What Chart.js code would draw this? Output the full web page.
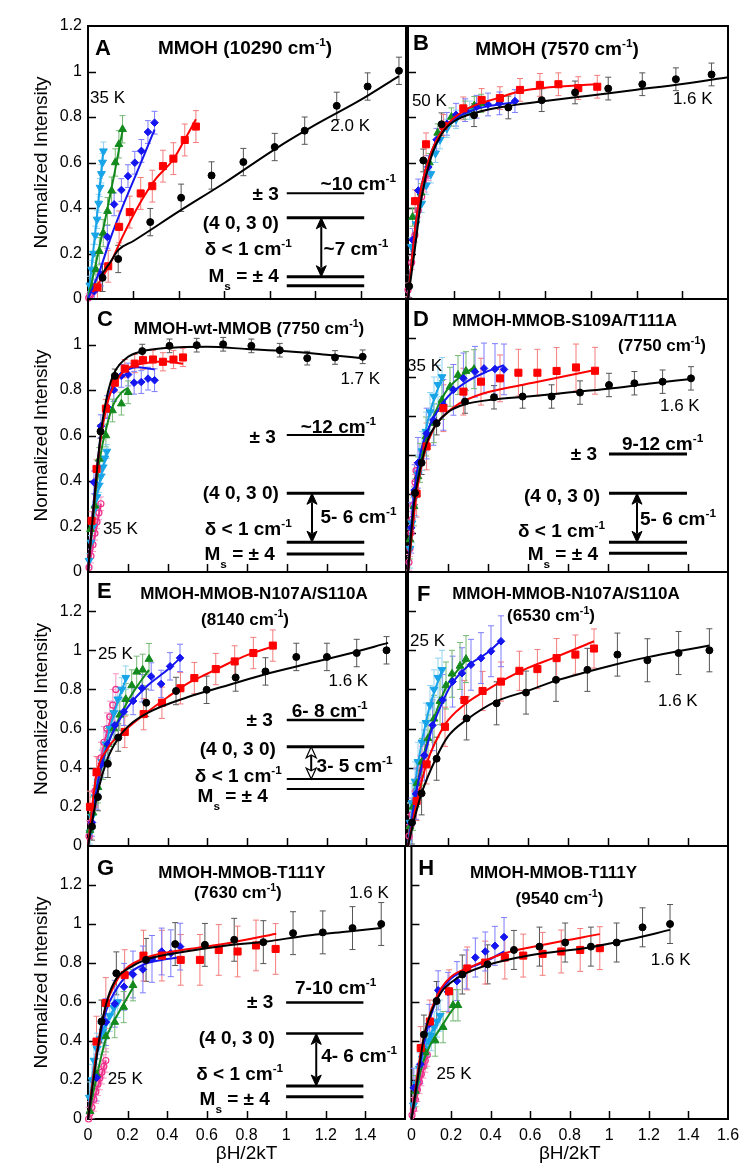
<!DOCTYPE html>
<html>
<head>
<meta charset="utf-8">
<script src="https://cdn.jsdelivr.net/npm/chart.js@4.4.1/dist/chart.umd.min.js"></script>
<style>
  body { margin: 0; background: #fff; width: 750px; height: 1175px; position: relative; overflow: hidden; }
  canvas { position: absolute; }
</style>
</head>
<body>
<script>
// ---- data: [betaH/2kT, normalized intensity] ----
// panel A  MMOH (10290 cm-1)
const aBlack = [[0.064,0.093],[0.133,0.176],[0.274,0.338],[0.41,0.445],[0.544,0.543],[0.684,0.602],[0.822,0.668],[0.954,0.74],[1.095,0.849],[1.231,0.934],[1.369,1.003]]
const aBlackFit = [[0.055,0.1],[0.1,0.165],[0.133,0.215],[0.2,0.255],[0.4,0.385],[0.6,0.51],[0.822,0.658],[1.0,0.765],[1.2,0.875],[1.369,0.98]]
const aRed = [[0.042,0.051],[0.089,0.144],[0.137,0.317],[0.184,0.382],[0.232,0.464],[0.283,0.496],[0.33,0.584],[0.376,0.617],[0.426,0.699],[0.475,0.758]]
const aRedFit = [[0.02,0.03],[0.06,0.09],[0.1,0.16],[0.15,0.27],[0.228,0.42],[0.3,0.53],[0.373,0.61],[0.42,0.69],[0.475,0.79]]
const aBlue = [[0.028,0.034],[0.057,0.107],[0.085,0.273],[0.115,0.416],[0.147,0.479],[0.176,0.54],[0.206,0.599],[0.235,0.651],[0.264,0.734],[0.293,0.775]]
const aBlueFit = [[0,0],[0.05,0.12],[0.1,0.27],[0.15,0.4],[0.2,0.52],[0.25,0.64],[0.293,0.745]]
const aGreen = [[0.02,0.05],[0.035,0.13],[0.05,0.21],[0.067,0.29],[0.086,0.386],[0.104,0.476],[0.12,0.6],[0.136,0.68],[0.152,0.746]]
const aGreenFit = [[0,0],[0.04,0.18],[0.08,0.37],[0.12,0.57],[0.152,0.74]]
const aCyan = [[0.008,0.06],[0.016,0.13],[0.024,0.2],[0.032,0.28],[0.04,0.35],[0.047,0.42],[0.053,0.49],[0.059,0.55],[0.064,0.6],[0.068,0.65]]
const aCyanFit = [[0,0],[0.035,0.32],[0.068,0.66]]
const aPink = [[0.003,0.005],[0.008,0.012],[0.013,0.02]]
const aPinkFit = []
const errA = [0.06, 0.07, 0.05, 0.06, 0.04, 0.02]

// panel B  MMOH (7570 cm-1)
const bBlack = [[0.005,0.056],[0.067,0.609],[0.147,0.768],[0.289,0.808],[0.439,0.842],[0.585,0.874],[0.731,0.908],[0.876,0.925],[1.025,0.944],[1.172,0.966],[1.328,0.987]]
const bBlackFit = [[0,0],[0.03,0.22],[0.06,0.45],[0.1,0.62],[0.15,0.73],[0.2,0.78],[0.3,0.82],[0.45,0.85],[0.6,0.87],[0.8,0.895],[1.0,0.92],[1.2,0.945],[1.4,0.975]]
const bRed = [[0.031,0.43],[0.079,0.68],[0.155,0.761],[0.242,0.838],[0.322,0.875],[0.402,0.883],[0.49,0.919],[0.577,0.941],[0.658,0.944],[0.745,0.927],[0.828,0.933]]
const bRedFit = [[0,0],[0.03,0.3],[0.06,0.5],[0.1,0.64],[0.15,0.74],[0.25,0.83],[0.4,0.885],[0.5,0.915],[0.828,0.945]]
const bBlue = [[0.02,0.26],[0.045,0.477],[0.089,0.58],[0.125,0.7],[0.17,0.77],[0.21,0.81],[0.25,0.83],[0.3,0.845],[0.35,0.855],[0.4,0.86],[0.468,0.87]]
const bBlueFit = [[0,0],[0.03,0.3],[0.06,0.5],[0.1,0.64],[0.15,0.74],[0.2,0.79],[0.3,0.835],[0.468,0.865]]
const bGreen = [[0.02,0.36],[0.057,0.467],[0.093,0.6],[0.13,0.73],[0.19,0.8],[0.25,0.83],[0.29,0.85],[0.32,0.86]]
const bGreenFit = [[0,0],[0.03,0.3],[0.06,0.5],[0.1,0.64],[0.15,0.74],[0.2,0.79],[0.32,0.845]]
const bCyan = [[0.015,0.23],[0.035,0.33],[0.06,0.42],[0.08,0.5],[0.1,0.55],[0.12,0.64],[0.14,0.7],[0.17,0.75],[0.21,0.79],[0.27,0.83]]
const bCyanFit = [[0,0],[0.03,0.28],[0.06,0.48],[0.1,0.62],[0.15,0.73],[0.2,0.78],[0.27,0.82]]
const bPink = [[0.0,0.04],[0.016,0.16],[0.03,0.28],[0.045,0.39],[0.06,0.45],[0.075,0.5],[0.09,0.55]]
const bPinkFit = [[0,0],[0.03,0.27],[0.06,0.45],[0.09,0.56]]
const errB = [0.05, 0.05, 0.05, 0.04, 0.04, 0.03]

// panel C  MMOH-wt-MMOB (7750 cm-1)
const cBlack = [[0.063,0.618],[0.135,0.862],[0.273,0.971],[0.41,0.994],[0.547,0.997],[0.68,1.001],[0.822,0.994],[0.965,0.975],[1.103,0.94],[1.243,0.943],[1.382,0.946]]
const cBlackFit = [[0,0],[0.03,0.3],[0.063,0.6],[0.1,0.79],[0.135,0.88],[0.2,0.945],[0.273,0.97],[0.4,0.985],[0.6,0.99],[0.8,0.98],[1.0,0.97],[1.2,0.955],[1.382,0.94]]
const cRed = [[0.018,0.225],[0.043,0.453],[0.09,0.718],[0.135,0.832],[0.185,0.894],[0.235,0.916],[0.277,0.931],[0.327,0.934],[0.377,0.924],[0.43,0.934],[0.478,0.943]]
const cRedFit = [[0,0],[0.03,0.3],[0.06,0.56],[0.1,0.75],[0.15,0.85],[0.2,0.895],[0.3,0.92],[0.4,0.925],[0.478,0.915]]
const cBlue = [[0.03,0.394],[0.065,0.641],[0.097,0.725],[0.13,0.8],[0.168,0.862],[0.202,0.868],[0.232,0.832],[0.268,0.835],[0.302,0.85],[0.335,0.843]]
const cBlueFit = [[0,0],[0.03,0.32],[0.065,0.6],[0.1,0.76],[0.15,0.86],[0.2,0.89],[0.25,0.9],[0.3,0.895],[0.335,0.89]]
const cGreen = [[0.013,0.188],[0.035,0.291],[0.057,0.497],[0.09,0.6],[0.123,0.71],[0.168,0.74],[0.202,0.79]]
const cGreenFit = [[0,0],[0.03,0.28],[0.06,0.5],[0.1,0.66],[0.13,0.74],[0.17,0.79],[0.202,0.81]]
const cCyan = [[0.005,0.05],[0.015,0.13],[0.025,0.2],[0.035,0.28],[0.045,0.33],[0.055,0.38],[0.065,0.42],[0.075,0.46],[0.085,0.5],[0.095,0.53]]
const cCyanFit = [[0,0],[0.03,0.25],[0.06,0.4],[0.095,0.53]]
const cPink = [[0.005,0.02],[0.015,0.07],[0.025,0.12],[0.035,0.17],[0.045,0.22],[0.055,0.26],[0.065,0.3]]
const cPinkFit = [[0,0],[0.065,0.3]]
const errC = [0.03, 0.04, 0.05, 0.05, 0.03, 0.03]

// panel D  MMOH-MMOB-S109A/T111A (7750 cm-1)
const dBlack = [[0.035,0.405],[0.068,0.56],[0.143,0.763],[0.285,0.874],[0.43,0.896],[0.573,0.9],[0.718,0.9],[0.86,0.92],[1.005,0.959],[1.132,0.968],[1.273,0.976],[1.415,0.993]]
const dBlackFit = [[0,0],[0.03,0.35],[0.068,0.56],[0.1,0.68],[0.143,0.76],[0.2,0.82],[0.285,0.86],[0.43,0.885],[0.6,0.9],[0.8,0.92],[1.0,0.94],[1.2,0.965],[1.415,0.99]]
const dRed = [[0.043,0.402],[0.093,0.644],[0.177,0.84],[0.277,0.925],[0.365,0.976],[0.46,0.993],[0.552,1.022],[0.647,1.022],[0.743,1.031],[0.84,1.049],[0.935,1.032]]
const dRedFit = [[0,0],[0.04,0.38],[0.08,0.6],[0.13,0.74],[0.177,0.8],[0.25,0.86],[0.375,0.915],[0.625,0.97],[0.935,1.036]]
const dBlue = [[0.016,0.227],[0.033,0.42],[0.05,0.56],[0.093,0.71],[0.127,0.78],[0.177,0.857],[0.227,0.934],[0.277,0.993],[0.335,1.027],[0.38,1.044],[0.435,1.041],[0.48,1.039]]
const dBlueFit = [[0,0],[0.03,0.4],[0.06,0.6],[0.1,0.73],[0.15,0.83],[0.2,0.9],[0.3,0.98],[0.4,1.03],[0.48,1.06]]
const dGreen = [[0.01,0.167],[0.03,0.337],[0.05,0.49],[0.06,0.56],[0.09,0.695],[0.13,0.763],[0.17,0.882],[0.21,0.95],[0.25,1.01],[0.29,1.03],[0.33,1.04]]
const dGreenFit = [[0,0],[0.05,0.49],[0.1,0.72],[0.15,0.85],[0.2,0.94],[0.26,1.0],[0.33,1.05]]
const dCyan = [[0.01,0.12],[0.02,0.25],[0.035,0.38],[0.05,0.5],[0.07,0.62],[0.09,0.72],[0.11,0.82],[0.13,0.9],[0.15,0.96],[0.17,1.0]]
const dCyanFit = [[0,0],[0.05,0.5],[0.1,0.78],[0.17,1.0]]
const dPink = [[0.005,0.05],[0.01,0.12],[0.015,0.2],[0.02,0.27],[0.025,0.34],[0.03,0.4],[0.035,0.46],[0.04,0.52]]
const dPinkFit = [[0,0],[0.04,0.52]]
const errD = [0.06, 0.12, 0.13, 0.1, 0.1, 0.04]

// panel E  MMOH-MMOB-N107A/S110A (8140 cm-1)
const eBlack = [[0.02,0.1],[0.05,0.25],[0.1,0.42],[0.152,0.554],[0.293,0.732],[0.443,0.792],[0.597,0.798],[0.743,0.861],[0.893,0.892],[1.048,0.966],[1.202,0.966],[1.352,0.986],[1.502,1.0]]
const eBlackFit = [[0,0],[0.05,0.28],[0.1,0.45],[0.152,0.55],[0.2,0.61],[0.3,0.68],[0.5,0.76],[0.7,0.82],[0.9,0.88],[1.1,0.93],[1.3,0.98],[1.51,1.038]]
const eRed = [[0.01,0.2],[0.043,0.377],[0.185,0.583],[0.28,0.674],[0.372,0.732],[0.465,0.806],[0.535,0.858],[0.643,0.904],[0.738,0.943],[0.832,0.986],[0.93,1.024]]
const eRedFit = [[0,0],[0.04,0.35],[0.1,0.5],[0.185,0.59],[0.28,0.67],[0.4,0.76],[0.5,0.83],[0.6,0.88],[0.7,0.93],[0.8,0.975],[0.93,1.02]]
const eBlue = [[0.02,0.12],[0.043,0.257],[0.07,0.42],[0.1,0.52],[0.135,0.617],[0.18,0.686],[0.227,0.741],[0.272,0.806],[0.318,0.866],[0.368,0.828],[0.413,0.918],[0.463,0.961]]
const eBlueFit = [[0,0],[0.03,0.2],[0.06,0.38],[0.1,0.52],[0.15,0.63],[0.2,0.71],[0.3,0.82],[0.4,0.9],[0.463,0.96]]
const eGreen = [[0.01,0.08],[0.025,0.17],[0.05,0.3],[0.075,0.42],[0.1,0.52],[0.13,0.6],[0.16,0.67],[0.19,0.75],[0.22,0.82],[0.245,0.89],[0.275,0.9],[0.307,0.955]]
const eGreenFit = [[0,0],[0.05,0.32],[0.1,0.52],[0.15,0.64],[0.2,0.74],[0.25,0.82],[0.307,0.9]]
const eCyan = [[0.01,0.07],[0.02,0.15],[0.035,0.25],[0.05,0.33],[0.07,0.43],[0.09,0.52],[0.11,0.6],[0.13,0.68],[0.15,0.75],[0.17,0.8],[0.19,0.86]]
const eCyanFit = [[0,0],[0.05,0.33],[0.1,0.56],[0.15,0.74],[0.19,0.85]]
const ePink = [[0.005,0.05],[0.015,0.12],[0.025,0.2],[0.035,0.28],[0.05,0.37],[0.065,0.45],[0.08,0.53],[0.095,0.6],[0.11,0.66],[0.125,0.72],[0.14,0.8]]
const ePinkFit = [[0,0],[0.05,0.36],[0.1,0.6],[0.14,0.72]]
const errE = [0.07, 0.08, 0.07, 0.08, 0.06, 0.08]

// panel F  MMOH-MMOB-N107A/S110A (6530 cm-1)
const fBlack = [[0.02,0.12],[0.068,0.269],[0.143,0.446],[0.293,0.652],[0.443,0.729],[0.59,0.784],[0.74,0.849],[0.897,0.9],[1.047,0.978],[1.197,0.949],[1.353,0.986],[1.507,1.0]]
const fBlackFit = [[0,0],[0.03,0.13],[0.068,0.27],[0.143,0.455],[0.2,0.56],[0.293,0.645],[0.443,0.74],[0.59,0.79],[0.74,0.845],[0.897,0.89],[1.047,0.93],[1.2,0.965],[1.35,0.995],[1.507,1.024]]
const fRed = [[0.043,0.23],[0.093,0.417],[0.185,0.609],[0.282,0.746],[0.373,0.792],[0.465,0.84],[0.557,0.895],[0.647,0.904],[0.743,0.96],[0.837,0.978],[0.93,1.009]]
const fRedFit = [[0,0],[0.043,0.22],[0.093,0.42],[0.185,0.62],[0.28,0.72],[0.4,0.8],[0.5,0.86],[0.6,0.91],[0.75,0.97],[0.93,1.046]]
const fBlue = [[0.017,0.115],[0.04,0.266],[0.082,0.463],[0.123,0.617],[0.173,0.746],[0.223,0.84],[0.27,0.883],[0.315,0.926],[0.365,0.96],[0.415,0.995],[0.465,1.046]]
const fBlueFit = [[0,0],[0.04,0.27],[0.08,0.45],[0.12,0.6],[0.17,0.73],[0.22,0.83],[0.3,0.92],[0.4,0.99],[0.465,1.05]]
const fGreen = [[0.01,0.1],[0.025,0.2],[0.045,0.32],[0.07,0.43],[0.1,0.55],[0.13,0.65],[0.16,0.74],[0.19,0.82],[0.22,0.88],[0.26,0.92],[0.29,0.955]]
const fGreenFit = [[0,0],[0.05,0.33],[0.1,0.55],[0.15,0.71],[0.2,0.83],[0.25,0.9],[0.3,0.96]]
const fCyan = [[0.01,0.12],[0.02,0.22],[0.035,0.33],[0.05,0.43],[0.07,0.53],[0.09,0.63],[0.11,0.72],[0.13,0.8],[0.15,0.86],[0.17,0.9]]
const fCyanFit = [[0,0],[0.05,0.42],[0.1,0.68],[0.17,0.9]]
const fPink = [[0.005,0.05],[0.01,0.1],[0.02,0.16],[0.03,0.22],[0.04,0.28],[0.05,0.34],[0.06,0.4],[0.07,0.45]]
const fPinkFit = [[0,0],[0.07,0.45]]
const errF = [0.11, 0.1, 0.13, 0.12, 0.1, 0.06]

// panel G  MMOH-MMOB-T111Y (7630 cm-1)
const gBlack = [[0.068,0.5],[0.143,0.747],[0.293,0.816],[0.44,0.897],[0.59,0.893],[0.738,0.919],[0.885,0.907],[1.035,0.953],[1.185,0.957],[1.335,0.979],[1.48,1.0]]
const gBlackFit = [[0,0],[0.03,0.22],[0.068,0.48],[0.1,0.62],[0.143,0.72],[0.2,0.77],[0.3,0.82],[0.5,0.86],[0.7,0.89],[0.9,0.91],[1.1,0.94],[1.3,0.96],[1.48,0.98]]
const gRed = [[0.043,0.397],[0.09,0.595],[0.185,0.738],[0.28,0.838],[0.373,0.838],[0.468,0.816],[0.565,0.816],[0.66,0.867],[0.755,0.859],[0.848,0.89],[0.947,0.872]]
const gRedFit = [[0,0],[0.04,0.32],[0.09,0.58],[0.14,0.7],[0.19,0.77],[0.3,0.83],[0.5,0.87],[0.7,0.9],[0.95,0.95]]
const gBlue = [[0.043,0.212],[0.09,0.497],[0.135,0.591],[0.182,0.678],[0.227,0.741],[0.277,0.767],[0.323,0.821],[0.372,0.859],[0.418,0.85],[0.465,0.884]]
const gBlueFit = [[0,0],[0.04,0.3],[0.09,0.55],[0.14,0.66],[0.2,0.74],[0.3,0.8],[0.4,0.82],[0.47,0.83]]
const gGreen = [[0.01,0.04],[0.043,0.229],[0.09,0.424],[0.135,0.497],[0.18,0.574],[0.227,0.686]]
const gGreenFit = [[0,0],[0.04,0.2],[0.09,0.41],[0.13,0.5],[0.18,0.59],[0.23,0.68]]
const gCyan = [[0.007,0.11],[0.02,0.2],[0.03,0.3],[0.045,0.36],[0.06,0.41],[0.075,0.45],[0.09,0.49],[0.11,0.53],[0.13,0.57],[0.15,0.6]]
const gCyanFit = [[0,0],[0.03,0.28],[0.07,0.44],[0.15,0.6]]
const gPink = [[0.003,0.0],[0.01,0.03],[0.02,0.06],[0.03,0.1],[0.04,0.14],[0.05,0.18],[0.06,0.21],[0.07,0.24],[0.08,0.27],[0.09,0.3]]
const gPinkFit = [[0,0],[0.09,0.3]]
const errG = [0.11, 0.13, 0.12, 0.08, 0.08, 0.06]

// panel H  MMOH-MMOB-T111Y (9540 cm-1)
const hBlack = [[0.063,0.433],[0.127,0.605],[0.257,0.741],[0.385,0.793],[0.518,0.867],[0.647,0.884],[0.777,0.905],[0.907,0.884],[1.037,0.905],[1.168,0.983],[1.307,1.0]]
const hBlackFit = [[0,0],[0.03,0.2],[0.063,0.42],[0.1,0.55],[0.15,0.65],[0.2,0.7],[0.26,0.74],[0.385,0.79],[0.6,0.84],[0.9,0.88],[1.1,0.92],[1.307,0.97]]
const hRed = [[0.047,0.364],[0.093,0.5],[0.19,0.655],[0.282,0.772],[0.373,0.802],[0.472,0.828],[0.565,0.838],[0.663,0.847],[0.757,0.859],[0.853,0.867],[0.952,0.876]]
const hRedFit = [[0,0],[0.05,0.36],[0.1,0.56],[0.15,0.67],[0.2,0.73],[0.3,0.78],[0.47,0.85],[0.7,0.9],[0.952,0.948]]
const hBlue = [[0.012,0.16],[0.045,0.281],[0.09,0.488],[0.135,0.66],[0.185,0.652],[0.23,0.707],[0.277,0.767],[0.323,0.828],[0.373,0.859],[0.422,0.888],[0.468,0.933]]
const hBlueFit = [[0,0],[0.045,0.29],[0.09,0.5],[0.14,0.64],[0.2,0.72],[0.28,0.77],[0.38,0.81],[0.468,0.86]]
const hGreen = [[0.02,0.143],[0.07,0.341],[0.12,0.402],[0.16,0.471],[0.21,0.583],[0.235,0.583]]
const hGreenFit = [[0,0],[0.05,0.26],[0.1,0.39],[0.15,0.47],[0.2,0.55],[0.24,0.6]]
const hCyan = [[0.01,0.07],[0.025,0.18],[0.04,0.26],[0.055,0.31],[0.07,0.36],[0.085,0.4],[0.1,0.43],[0.115,0.47],[0.13,0.5],[0.145,0.53]]
const hCyanFit = [[0,0],[0.04,0.27],[0.09,0.42],[0.145,0.53]]
const hPink = [[0.003,0.02],[0.01,0.05],[0.02,0.1],[0.03,0.15],[0.04,0.19],[0.05,0.23],[0.06,0.27],[0.07,0.3],[0.08,0.33]]
const hPinkFit = [[0,0],[0.08,0.33]]
const errH = [0.1, 0.11, 0.1, 0.08, 0.08, 0.06]

// ---- styling ----
const FONT = '"Liberation Sans", Arial, Helvetica, sans-serif'
const SERIES = [
    { color: '#000000', bar: '#555555', shape: 'circle', r: 3.5 },
    { color: '#ff0000', bar: '#f47c7c', shape: 'rect', r: 5 },
    { color: '#1515f0', bar: '#7d7dff', shape: 'rectRot', r: 3.8 },
    { color: '#138a1d', bar: '#74b874', shape: 'triangle', r: 4.5 },
    { color: '#18a4e8', bar: '#8fd2f2', shape: 'triangle', r: 4.5, rot: 180 },
    { color: '#f0308c', bar: '#f796c4', shape: 'circle', r: 3, open: true }
]
const COLS = [{ left: 0, width: 412, axisW: 88, right: 408 }, { left: 400, width: 350, axisW: 8, right: 728 }]
const ROWS = [{ top: 26, bottom: 299 }, { top: 299, bottom: 572 }, { top: 572, bottom: 846 }, { top: 846, bottom: 1119 }]

// text annotations: [x, y, text, align, size, bold]  (data units)
const L = (x, y, s) => [x, y, s, 'left', 22, true]
const T = (x, y, s, size) => [x, y, s, 'center', size || 17, true]
const K = (x, y, s) => [x, y, s, 'left', 17, false]
const DR = (x, y, s) => [x, y, s, 'right', 19, true]
const DL = (x, y, s) => [x, y, s, 'left', 19, true]

const PANELS = [
    { col: 0, row: 0, xMax: 1.4, yMax: 1.2, errs: errA,
      points: [aBlack, aRed, aBlue, aGreen, aCyan, aPink], fits: [aBlackFit, aRedFit, aBlueFit, aGreenFit, aCyanFit, aPinkFit],
      notes: [L(0.031, 1.108, 'A'), T(0.691, 1.108, 'MMOH (10290 cm^{-1})', 19), K(0.009, 0.888, '35 K'), K(1.067, 0.765, '2.0 K'),
              DR(0.84, 0.466, '± 3'), DL(1.024, 0.51, '~10 cm^{-1}'), DR(0.84, 0.336, '(4 0, 3 0)'),
              DR(0.897, 0.224, 'δ < 1 cm^{-1}'), DL(1.037, 0.224, '~7 cm^{-1}'), DR(0.84, 0.105, 'M_{s} = ± 4')],
      diagram: { x0: 0.875, x1: 1.216, levels: [[0.465, 2], [0.357, 3], [0.098, 3], [0.058, 3]], arrow: [1.027, 0.357, 0.098] } },
    { col: 1, row: 0, xMax: 1.4, yMax: 1.2, errs: errB,
      points: [bBlack, bRed, bBlue, bGreen, bCyan, bPink], fits: [bBlackFit, bRedFit, bBlueFit, bGreenFit, bCyanFit, bPinkFit],
      notes: [L(0.022, 1.13, 'B'), T(0.652, 1.103, 'MMOH (7570 cm^{-1})', 19), K(0.017, 0.875, '50 K'), K(1.159, 0.884, '1.6 K')] },
    { col: 0, row: 1, xMax: 1.6, yMax: 1.2, errs: errC,
      points: [cBlack, cRed, cBlue, cGreen, cCyan, cPink], fits: [cBlackFit, cRedFit, cBlueFit, cGreenFit, cCyanFit, cPinkFit],
      notes: [L(0.045, 1.116, 'C'), T(0.81, 1.073, 'MMOH-wt-MMOB (7750 cm^{-1})'), K(1.27, 0.853, '1.7 K'), K(0.075, 0.193, '35 K'),
              DR(0.945, 0.599, '± 3'), DL(1.07, 0.639, '~12 cm^{-1}'), DR(0.96, 0.349, '(4 0, 3 0)'),
              DR(1.025, 0.192, 'δ < 1 cm^{-1}'), DL(1.17, 0.247, '5- 6 cm^{-1}'), DR(0.94, 0.082, 'M_{s} = ± 4')],
      diagram: { x0: 1.0, x1: 1.39, levels: [[0.602, 2], [0.346, 3], [0.131, 3], [0.079, 3]], arrow: [1.127, 0.346, 0.131] } },
    { col: 1, row: 1, xMax: 1.6, yMax: 1.4, errs: errD,
      points: [dBlack, dRed, dBlue, dGreen, dCyan, dPink], fits: [dBlackFit, dRedFit, dBlueFit, dGreenFit, dCyanFit, dPinkFit],
      notes: [L(0.025, 1.303, 'D'), T(0.783, 1.292, 'MMOH-MMOB-S109A/T111A'), T(1.27, 1.164, '(7750 cm^{-1})'),
              K(-0.005, 1.062, '35 K'), K(1.26, 0.856, '1.6 K'),
              DR(0.945, 0.61, '± 3'), DL(1.07, 0.662, '9-12 cm^{-1}'), DR(0.96, 0.395, '(4 0, 3 0)'),
              DR(0.985, 0.215, 'δ < 1 cm^{-1}'), DL(1.16, 0.277, '5- 6 cm^{-1}'), DR(0.95, 0.097, 'M_{s} = ± 4')],
      diagram: { x0: 1.005, x1: 1.395, levels: [[0.605, 3], [0.404, 3], [0.152, 3], [0.096, 3]], arrow: [1.145, 0.404, 0.152] } },
    { col: 0, row: 2, xMax: 1.6, yMax: 1.4, errs: errE,
      points: [eBlack, eRed, eBlue, eGreen, eCyan, ePink], fits: [eBlackFit, eRedFit, eBlueFit, eGreenFit, eCyanFit, ePinkFit],
      notes: [L(0.045, 1.308, 'E'), T(0.835, 1.291, 'MMOH-MMOB-N107A/S110A'), T(0.79, 1.163, '(8140 cm^{-1})'),
              K(0.05, 0.986, '25 K'), K(1.21, 0.848, '1.6 K'),
              DR(0.93, 0.649, '± 3'), DL(1.025, 0.695, '6- 8 cm^{-1}'), DR(0.945, 0.502, '(4 0, 3 0)'),
              DR(0.975, 0.363, 'δ < 1 cm^{-1}'), DL(1.15, 0.414, '3- 5 cm^{-1}'), DR(0.905, 0.26, 'M_{s} = ± 4')],
      diagram: { x0: 1.0, x1: 1.39, levels: [[0.644, 2.5], [0.507, 3], [0.342, 2], [0.291, 2]], arrow: [1.123, 0.507, 0.342], open: true } },
    { col: 1, row: 2, xMax: 1.6, yMax: 1.4, errs: errF,
      points: [fBlack, fRed, fBlue, fGreen, fCyan, fPink], fits: [fBlackFit, fRedFit, fBlueFit, fGreenFit, fCyanFit, fPinkFit],
      notes: [L(0.045, 1.293, 'F'), T(0.79, 1.293, 'MMOH-MMOB-N107A/S110A'), T(0.715, 1.18, '(6530 cm^{-1})'),
              K(0.01, 1.053, '25 K'), K(1.25, 0.746, '1.6 K')] },
    { col: 0, row: 3, xMax: 1.6, yMax: 1.4, errs: errG,
      points: [gBlack, gRed, gBlue, gGreen, gCyan, gPink], fits: [gBlackFit, gRedFit, gBlueFit, gGreenFit, gCyanFit, gPinkFit],
      notes: [L(0.045, 1.294, 'G'), T(0.777, 1.268, 'MMOH-MMOB-T111Y'), T(0.756, 1.166, '(7630 cm^{-1})'),
              K(1.318, 1.166, '1.6 K'), K(0.1, 0.209, '25 K'),
              DR(0.935, 0.602, '± 3'), DL(1.045, 0.678, '7-10 cm^{-1}'), DR(0.943, 0.422, '(4 0, 3 0)'),
              DR(0.985, 0.234, 'δ < 1 cm^{-1}'), DL(1.177, 0.328, '4- 6 cm^{-1}'), DR(0.918, 0.106, 'M_{s} = ± 4')],
      diagram: { x0: 1.0, x1: 1.39, levels: [[0.598, 2.5], [0.439, 2.5], [0.169, 3], [0.114, 3]], arrow: [1.152, 0.439, 0.169] } },
    { col: 1, row: 3, xMax: 1.6, yMax: 1.4, errs: errH,
      points: [hBlack, hRed, hBlue, hGreen, hCyan, hPink], fits: [hBlackFit, hRedFit, hBlueFit, hGreenFit, hCyanFit, hPinkFit],
      notes: [L(0.035, 1.294, 'H'), T(0.718, 1.268, 'MMOH-MMOB-T111Y'), T(0.748, 1.132, '(9540 cm^{-1})'),
              K(1.21, 0.82, '1.6 K'), K(0.127, 0.234, '25 K')] }
]

// text with ^{sup} and _{sub}
function drawRich(ctx, str, x, y, align, size, bold) {
    const parts = str.split(/(\^\{[^}]*\}|_\{[^}]*\})/).filter(Boolean).map(p => {
        if (p.startsWith('^{')) return { t: p.slice(2, -1), s: size * 0.62, dy: -size * 0.42 }
        if (p.startsWith('_{')) return { t: p.slice(2, -1), s: size * 0.62, dy: size * 0.42 }
        return { t: p, s: size, dy: 0 }
    })
    const font = s => (bold ? 'bold ' : '') + s + 'px ' + FONT
    let total = 0
    parts.forEach(p => { ctx.font = font(p.s); p.w = ctx.measureText(p.t).width; total += p.w })
    let cx = align === 'right' ? x - total : align === 'center' ? x - total / 2 : x
    const base = y + size * 0.36
    ctx.textAlign = 'left'
    ctx.textBaseline = 'alphabetic'
    ctx.fillStyle = '#000'
    parts.forEach(p => { ctx.font = font(p.s); ctx.fillText(p.t, cx, base + p.dy); cx += p.w })
}

function drawArrow(ctx, x, yTop, yBot, open) {
    const hw = 5, hl = 11
    ctx.strokeStyle = '#000'
    ctx.fillStyle = open ? '#fff' : '#000'
    ctx.lineWidth = 2
    ctx.beginPath()
    ctx.moveTo(x, yTop + hl - 2)
    ctx.lineTo(x, yBot - hl + 2)
    ctx.stroke()
    ctx.lineWidth = open ? 1.2 : 1
    ;[[yTop, 1], [yBot, -1]].forEach(([yy, d]) => {
        ctx.beginPath()
        ctx.moveTo(x, yy)
        ctx.lineTo(x - hw, yy + d * hl)
        ctx.lineTo(x, yy + d * hl * 0.75)
        ctx.lineTo(x + hw, yy + d * hl)
        ctx.closePath()
        ctx.fill()
        ctx.stroke()
    })
}

// frame, inward ticks, error bars, labels and level diagram
const makeDecor = panel => ({
    id: 'decor',
    beforeDatasetsDraw(chart) {
        const { ctx, chartArea: a, scales: { x, y } } = chart
        ctx.save()
        ctx.strokeStyle = '#000'
        ctx.lineWidth = 1.5
        ctx.beginPath()
        x.ticks.forEach(t => {
            if (t.value <= x.min + 1e-6 || t.value >= x.max - 1e-6) return
            const px = Math.round(x.getPixelForValue(t.value)) + 0.5
            ctx.moveTo(px, a.bottom); ctx.lineTo(px, a.bottom - 8)
        })
        y.ticks.forEach(t => {
            if (t.value <= y.min + 1e-6 || t.value >= y.max - 1e-6) return
            const py = Math.round(y.getPixelForValue(t.value)) + 0.5
            ctx.moveTo(a.left, py); ctx.lineTo(a.left + 8, py)
        })
        ctx.stroke()
        ctx.lineWidth = 2
        ctx.strokeRect(a.left, a.top, a.right - a.left, a.bottom - a.top)

        // error bars
        ctx.beginPath()
        ctx.rect(a.left - 14, a.top, a.right - a.left + 14, a.bottom - a.top)
        ctx.clip()
        chart.data.datasets.forEach(ds => {
            if (!ds.err) return
            ctx.strokeStyle = ds.errColor
            ctx.lineWidth = 1
            ctx.beginPath()
            ds.data.forEach(p => {
                const px = x.getPixelForValue(p.x)
                const y1 = y.getPixelForValue(p.y - ds.err)
                const y2 = y.getPixelForValue(p.y + ds.err)
                ctx.moveTo(px, y1); ctx.lineTo(px, y2)
                ctx.moveTo(px - 3, y1); ctx.lineTo(px + 3, y1)
                ctx.moveTo(px - 3, y2); ctx.lineTo(px + 3, y2)
            })
            ctx.stroke()
        })
        ctx.restore()
    },
    afterDraw(chart) {
        const { ctx, scales: { x, y } } = chart
        ctx.save()
        const dg = panel.diagram
        if (dg) {
            ctx.strokeStyle = '#000'
            dg.levels.forEach(([v, w]) => {
                ctx.lineWidth = w
                ctx.beginPath()
                ctx.moveTo(x.getPixelForValue(dg.x0), y.getPixelForValue(v))
                ctx.lineTo(x.getPixelForValue(dg.x1), y.getPixelForValue(v))
                ctx.stroke()
            })
            const [ax, a1, a2] = dg.arrow
            drawArrow(ctx, x.getPixelForValue(ax), y.getPixelForValue(a1), y.getPixelForValue(a2), dg.open)
        }
        panel.notes.forEach(([nx, ny, s, align, size, bold]) => {
            drawRich(ctx, s, x.getPixelForValue(nx), y.getPixelForValue(ny), align, size, bold)
        })
        ctx.restore()
    }
})

const fmt = v => String(Math.round(v * 10) / 10)

PANELS.forEach(panel => {
    const col = COLS[panel.col], row = ROWS[panel.row]
    const bottomRow = panel.row === 3
    const cTop = row.top - 26
    const cBottom = bottomRow ? 1175 : row.bottom + 16
    const xAxisH = cBottom - row.bottom

    const canvas = document.createElement('canvas')
    canvas.width = col.width
    canvas.height = cBottom - cTop
    canvas.style.left = col.left + 'px'
    canvas.style.top = cTop + 'px'
    document.body.appendChild(canvas)

    const datasets = []
    SERIES.forEach((s, i) => {
        const pts = panel.points[i], fit = panel.fits[i]
        if (pts.length) {
            datasets.push({
                data: pts.map(([x, y]) => ({ x, y })),
                err: panel.errs[i],
                errColor: s.bar,
                showLine: false,
                pointStyle: s.shape,
                pointRadius: s.r,
                pointRotation: s.rot || 0,
                pointBackgroundColor: s.open ? 'rgba(255,255,255,0)' : s.color,
                pointBorderColor: s.color,
                pointBorderWidth: s.open ? 1.2 : 1,
                clip: false
            })
        }
        if (fit.length) {
            datasets.push({
                data: fit.map(([x, y]) => ({ x, y })),
                showLine: true,
                pointRadius: 0,
                borderColor: s.color,
                borderWidth: 2,
                cubicInterpolationMode: 'monotone',
                fill: false,
                clip: false
            })
        }
    })

    const leftCol = panel.col === 0
    new Chart(canvas.getContext('2d'), {
        type: 'scatter',
        data: { datasets },
        options: {
            responsive: false,
            animation: false,
            events: [],
            layout: { padding: { left: 0, top: 26, right: col.left + col.width - col.right, bottom: 0 } },
            plugins: { legend: { display: false }, tooltip: { enabled: false } },
            scales: {
                x: {
                    type: 'linear', min: 0, max: panel.xMax,
                    grid: { display: false, drawTicks: false },
                    border: { display: false },
                    ticks: {
                        display: bottomRow, stepSize: 0.2, autoSkip: false, maxRotation: 0, padding: 7,
                        color: '#000', font: { family: FONT, size: 16 },
                        callback: v => (leftCol && v > panel.xMax - 1e-6) ? '' : fmt(v)
                    },
                    title: { display: bottomRow, text: 'βH/2kT', color: '#000', font: { family: FONT, size: 19 }, padding: { top: 0, bottom: 10 } },
                    afterFit: s => { s.height = xAxisH }
                },
                y: {
                    type: 'linear', min: 0, max: panel.yMax,
                    grid: { display: false, drawTicks: false },
                    border: { display: false },
                    ticks: {
                        display: leftCol, stepSize: 0.2, autoSkip: false, padding: 6,
                        color: '#000', font: { family: FONT, size: 16 },
                        callback: v => (panel.row > 0 && v > panel.yMax - 1e-6) ? '' : fmt(v)
                    },
                    title: { display: leftCol, text: 'Normalized Intensity', color: '#000', font: { family: FONT, size: 19 }, padding: { top: 30, bottom: 0 } },
                    afterFit: s => { s.width = col.axisW }
                }
            }
        },
        plugins: [makeDecor(panel)]
    })
})
</script>
</body>
</html>
